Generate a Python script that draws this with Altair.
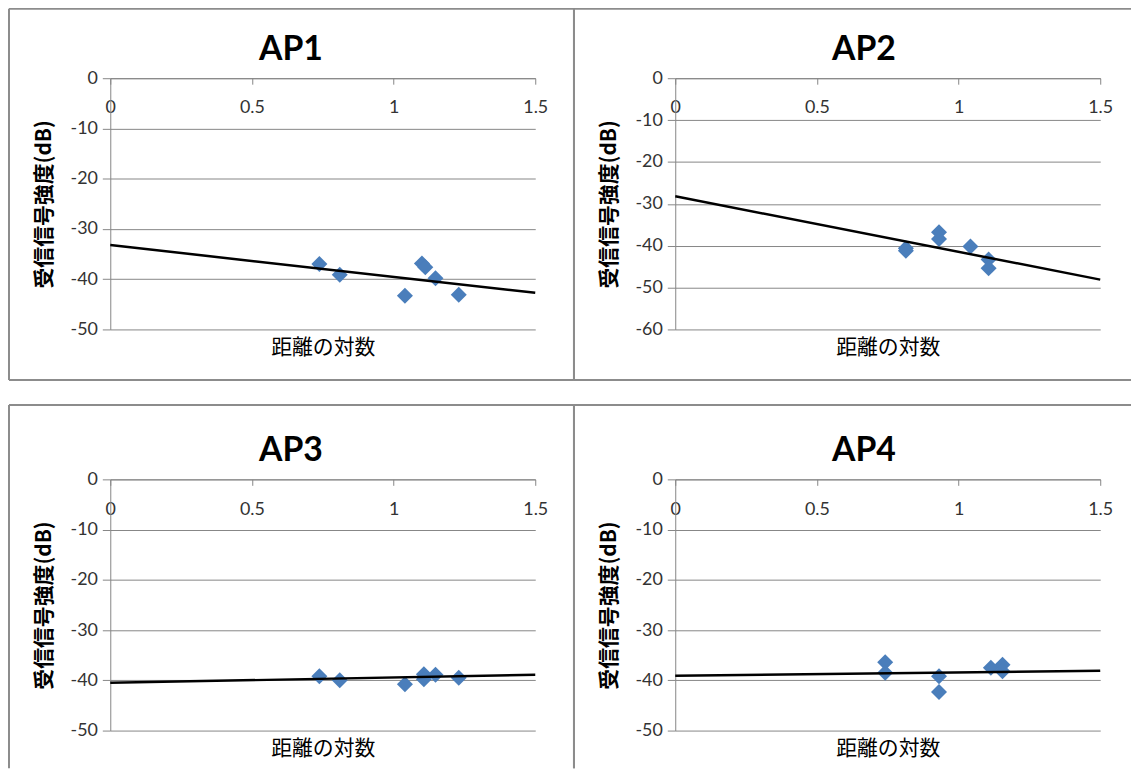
import altair as alt
import pandas as pd

# ---- data ----
panel_titles = ["AP1", "AP2", "AP3", "AP4"]
ap1_x = [0.738, 0.810, 1.040, 1.100, 1.112, 1.148, 1.230]
ap1_y = [-37.0, -39.1, -43.3, -36.9, -37.6, -39.8, -43.1]
ap2_x = [0.814, 0.814, 0.931, 0.931, 1.042, 1.106, 1.106]
ap2_y = [-40.6, -41.2, -36.8, -38.4, -40.2, -43.3, -45.4]
ap3_x = [0.738, 0.810, 1.040, 1.107, 1.107, 1.148, 1.230]
ap3_y = [-39.2, -40.0, -40.8, -38.8, -39.8, -38.9, -39.5]
ap4_x = [0.741, 0.741, 0.931, 0.931, 1.114, 1.155, 1.155]
ap4_y = [-36.4, -38.5, -39.2, -42.3, -37.5, -36.9, -38.2]
trend_x = [0.0, 1.5]
ap1_trend = [-33.2, -42.7]
ap2_trend = [-28.2, -48.1]
ap3_trend = [-40.5, -38.9]
ap4_trend = [-39.1, -38.1]
y_mins = [-50, -60, -50, -50]
x_ticks = [0, 0.5, 1, 1.5]
x_title = "距離の対数"
y_title = "受信信号強度(dB)"

series_x = [ap1_x, ap2_x, ap3_x, ap4_x]
series_y = [ap1_y, ap2_y, ap3_y, ap4_y]
trends = [ap1_trend, ap2_trend, ap3_trend, ap4_trend]

# ---- style ----
W, H = 428, 253
GRID = "#868686"
FRAME = "#8c8c8c"
BLUE = "#4a7ebb"
LABEL = "#333333"
JP = "Noto Sans CJK JP"
LAT = "Lato"


def rule(**enc):
    return alt.Chart(alt.Data(values=[{}])).mark_rule(
        color=FRAME, strokeWidth=2
    ).encode(**{k: alt.value(v) for k, v in enc.items()})


def panel(i):
    col = i % 2
    row = i // 2
    left, right_ext = -102, (W + 39 if col == 0 else W + 31)
    top = -70 if row == 0 else -75
    bottom = H + 51 if row == 0 else H + 38
    frames = [
        rule(x=left, x2=right_ext, y=top),
        rule(x=left, y=top, y2=bottom),
    ]
    if row == 0:
        frames.append(rule(x=left, x2=right_ext, y=bottom))
    if col == 0:
        frames.append(rule(x=right_ext, y=top, y2=bottom))

    xs = alt.Scale(domain=[0, 1.5], nice=False, zero=False)
    ys = alt.Scale(domain=[y_mins[i], 0], nice=False)
    yaxis = alt.Axis(
        values=list(range(0, y_mins[i] - 1, -10)),
        labelExpr="'' + datum.value",
        title=y_title,
        grid=True, gridColor=GRID, gridWidth=1,
        domainColor=GRID, domainWidth=1,
        tickColor=GRID, tickSize=8, tickWidth=1,
        labelPadding=5, labelFont=LAT, labelFontSize=18, labelColor=LABEL,
        labelFlush=False, labelOverlap=False,
        titleFont=JP, titleFontSize=21, titleFontWeight="bold",
        titleColor="#000000", titlePadding=16,
    )
    xaxis_top = alt.Axis(
        orient="bottom", offset=-H, values=x_ticks,
        labelExpr="'' + datum.value", title=None, grid=False,
        domainColor=GRID, domainWidth=1, tickColor=GRID, tickSize=6,
        labelPadding=15, labelFont=LAT, labelFontSize=18, labelColor=LABEL,
        labelFlush=False, labelOverlap=False,
    )
    xaxis_title = alt.Axis(
        orient="bottom", title=x_title, labels=False, ticks=False,
        domain=False, grid=False, titleFont=JP, titleFontSize=21,
        titleFontWeight="normal", titleColor="#000000", titlePadding=7,
    )
    df = pd.DataFrame({"x": series_x[i], "y": series_y[i]})
    tdf = pd.DataFrame({"x": trend_x, "y": trends[i]})
    pts = alt.Chart(df).mark_point(
        shape="diamond", filled=True, size=260, color=BLUE, opacity=1
    ).encode(
        x=alt.X("x:Q", scale=xs, axis=xaxis_top),
        y=alt.Y("y:Q", scale=ys, axis=yaxis),
    )
    line = alt.Chart(tdf).mark_line(color="#000000", strokeWidth=2.5).encode(
        x=alt.X("x:Q", scale=xs, axis=xaxis_title),
        y=alt.Y("y:Q", scale=ys, axis=yaxis),
    )
    return alt.layer(*frames, pts, line).resolve_axis(x="independent").properties(
        width=W, height=H,
        title=alt.TitleParams(
            text=panel_titles[i], font=LAT, fontSize=34, fontWeight="bold",
            color="#000000", anchor="middle", frame="group",
            baseline="alphabetic",
            dx=(-32 if col == 0 else -24),
            offset=(-87 if row == 0 else -92),
        ),
    )


chart = alt.concat(
    *[panel(i) for i in range(4)],
    columns=2,
    spacing={"row": 151, "column": 141},
    bounds="flush",
).configure_view(stroke=None).properties(
    padding={"top": -3, "left": 0, "right": 0, "bottom": 0},
    background="white",
)

chart.save("out.html", embed_options={"renderer": "svg", "actions": False})
